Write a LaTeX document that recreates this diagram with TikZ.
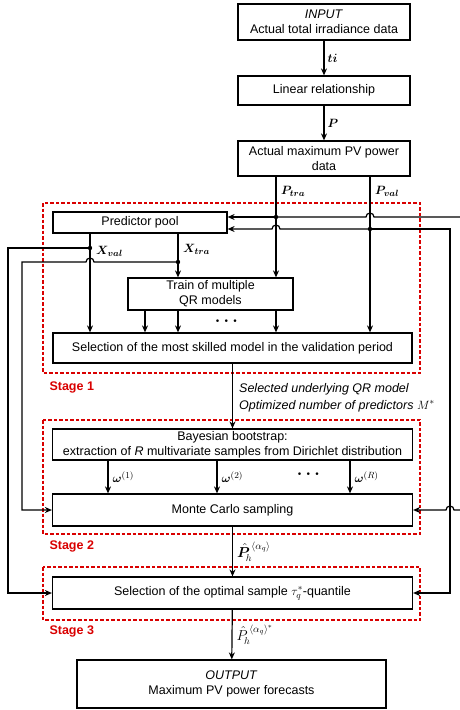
\documentclass[tikz,border=0pt]{standalone}
\usepackage{amsmath,amssymb,bm}
\usepackage{fontspec}
\setmainfont{Liberation Sans}
\usetikzlibrary{arrows.meta,calc,positioning}

\begin{document}
\begin{tikzpicture}[x=1pt,y=1pt,>={Stealth[length=7pt,width=6pt]},
  box/.style={draw,line width=1.2pt,align=center,inner sep=1pt,font=\fontsize{12.5}{15}\selectfont},
  stage/.style={draw=red!85!black,line width=1.1pt,dash pattern=on 3.5pt off 2pt},
  stagelbl/.style={anchor=west,text=red!85!black,font=\fontsize{12.5}{14}\selectfont\bfseries},
  lbl/.style={anchor=west,inner sep=1pt,font=\fontsize{12.5}{14}\selectfont},
  link/.style={line width=1.2pt}]
\useasboundingbox (0,0) rectangle (459,-710);
% boxes
\node[box,minimum width=172,minimum height=36] (in) at (324,-22) {\textit{INPUT}\\Actual total irradiance data};
\node[box,minimum width=172,minimum height=29] (lin) at (324,-90.5) {Linear relationship};
\node[box,minimum width=172,minimum height=35] (pv) at (324,-158.5) {Actual maximum PV power\\data};
\node[box,minimum width=174,minimum height=21] (pool) at (140,-222.5) {Predictor pool};
\node[box,minimum width=165,minimum height=32] (train) at (210.5,-294) {Train of multiple\\QR models};
\node[box,minimum width=359,minimum height=30] (sel) at (232.5,-348) {Selection of the most skilled model in the validation period};
\node[box,minimum width=360,minimum height=31] (bayes) at (232.5,-444.5) {Bayesian bootstrap:\\extraction of \textit{R} multivariate samples from Dirichlet distribution};
\node[box,minimum width=360,minimum height=32] (mc) at (232.5,-510) {Monte Carlo sampling};
\node[box,minimum width=360,minimum height=32] (opt) at (232.5,-593) {Selection of the optimal sample $\tau_q^{*}$-quantile};
\node[box,minimum width=309,minimum height=48] (out) at (231.5,-684) {\textit{OUTPUT}\\Maximum PV power forecasts};
% stages
\draw[stage] (43,-203) rectangle (420,-373);
\draw[stage] (43,-420) rectangle (420,-534);
\draw[stage] (43,-567) rectangle (420,-620);
\node[stagelbl] (s1) at (46,-387) {Stage 1};
\node[stagelbl] (s2) at (46,-546) {Stage 2};
\node[stagelbl] (s3) at (46,-631) {Stage 3};
% branch points
\coordinate (ptra) at (276,-217);
\coordinate (pval) at (370,-229);
\coordinate (xval) at (90,-248);
\coordinate (xtra) at (178,-262);
% main chain
\draw[link,->] (in) -- (lin) node[lbl,midway,right=2pt] {$\bm{ti}$};
\draw[link,->] (lin) -- (pv) node[lbl,midway,right=2pt] {$\bm{P}$};
\draw[link,->] (pv.south -| ptra) -- (train.north -| ptra);
\draw[link,->] (pv.south -| pval) -- (sel.north -| pval);
\node[lbl] (ptral) at (280,-191) {$\bm{P_{tra}}$};
\node[lbl] (pvall) at (374,-191) {$\bm{P_{val}}$};
\draw[link,->] (ptra) -- (pool.east |- ptra);
\draw[link,->] (pval) -- (280,-229) arc[start angle=0,end angle=180,radius=4] -- (pool.east |- pval);
\draw[link,->] (ptra) -- (366,-217) arc[start angle=180,end angle=0,radius=4] -- (462,-217) -- (462,-510)
  -- (454,-510) arc[start angle=0,end angle=180,radius=4] -- (mc.east);
\draw[link,->] (pval) -- (450,-229) -- (450,-593) -- (opt.east);
% predictors
\draw[link,->] (pool.south -| xval) -- (sel.north -| xval);
\draw[link,->] (pool.south -| xtra) -- (train.north -| xtra);
\node[lbl] (xvall) at (95,-251) {$\bm{X_{val}}$};
\node[lbl] (xtral) at (182,-249) {$\bm{X_{tra}}$};
\draw[link,->] (xval) -- (8,-248) -- (8,-593) -- (opt.west);
\draw[link,->] (xtra) -- (94,-262) arc[start angle=0,end angle=180,radius=4] -- (22,-262) -- (22,-510) -- (mc.west);
\foreach \p in {ptra,pval,xval,xtra} \fill (\p) circle (2.2);
\foreach \x in {145,178,276} {
  \coordinate (col) at (\x,0);
  \draw[link,->] (train.south -| col) -- (sel.north -| col);
}
\node[lbl,anchor=center,font=\fontsize{17}{17}\selectfont] (dotsa) at (228,-321) {$\bm{\cdots}$};
% stage 1 to stage 2
\draw[link,->] (sel) -- (bayes);
\node[lbl,align=left,font=\fontsize{12.5}{17}\selectfont\itshape] (selout) at (238,-397.5) {Selected underlying QR model\\Optimized number of predictors $M^{*}$};
\foreach \x/\r in {108/1,217/2,350/R} {
  \coordinate (col) at (\x,0);
  \draw[link,->] (bayes.south -| col) -- (mc.north -| col) node[lbl,midway,right=3pt] {$\bm{\omega}^{(\r)}$};
}
\node[lbl,anchor=center,font=\fontsize{17}{17}\selectfont] (dotsb) at (310,-474) {$\bm{\cdots}$};
% stage 2 to stage 3 and output
\draw[link,->] (mc) -- (opt) node[lbl,midway,right=3pt,font=\fontsize{14}{16}\selectfont] {$\hat{\bm{P}}_{\!h}^{\,\langle\alpha_q\rangle}$};
\draw[link,->] (opt) -- (out) node[lbl,midway,right=3pt,font=\fontsize{14}{16}\selectfont] {$\hat{P}_{\!h}^{\,\langle\alpha_q\rangle^{*}}$};
\end{tikzpicture}
\end{document}
